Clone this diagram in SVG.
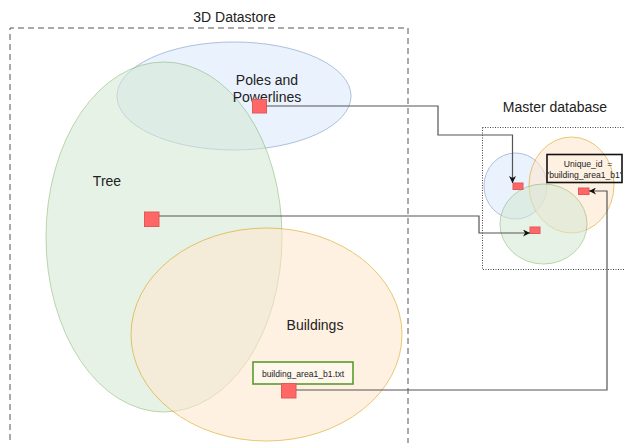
<svg xmlns="http://www.w3.org/2000/svg" width="624" height="443" viewBox="0 0 624 443">
  <style>
    text { font-family: "Liberation Sans", Arial, sans-serif; fill: #222; }
    .title { font-size: 14px; text-anchor: middle; }
    .small { font-size: 8.6px; text-anchor: middle; }
    .blob { opacity: 0.55; }
    .blue { fill: #dae8fc; stroke: #6c8ebf; }
    .green { fill: #d5e8d4; stroke: #82b366; }
    .orange { fill: #ffe6cc; stroke: #d79b00; }
    .key { fill: #ff6666; stroke: #e05a5a; stroke-width: 1; }
    .wire { fill: none; stroke: #555; stroke-width: 1.2; }
  </style>
  <defs>
    <marker id="arrow" viewBox="0 0 10 10" refX="10" refY="5" markerWidth="7" markerHeight="7" orient="auto" markerUnits="userSpaceOnUse">
      <path d="M0,0 L10,5 L0,10 L3,5 Z" fill="#111"/>
    </marker>
  </defs>

  <rect width="624" height="443" fill="#ffffff"/>

  <!-- 3D Datastore container -->
  <g id="datastore">
    <path d="M10,450 L10,28 L408,28 L408,450" fill="none" stroke="#555" stroke-dasharray="6,4"/>
    <text class="title" x="234.5" y="22">3D Datastore</text>
  </g>

  <!-- Layer sets -->
  <g id="poles">
    <ellipse class="blob blue" cx="234" cy="96" rx="117" ry="54"/>
  </g>
  <g id="tree">
    <ellipse class="blob green" cx="164" cy="237" rx="118" ry="175"/>
    <text class="title" x="107" y="186">Tree</text>
  </g>
  <g id="buildings">
    <ellipse class="blob orange" cx="266.5" cy="334.5" rx="135.5" ry="106.5"/>
    <text class="title" x="315" y="330">Buildings</text>
  </g>
  <g id="poles-label">
    <text class="title" x="267" y="85">Poles and</text>
    <text class="title" x="267" y="102">Powerlines</text>
  </g>

  <g id="building-file">
    <rect x="253" y="362" width="100" height="22" fill="#ffffff" fill-opacity="0.35" stroke="#5d9a32" stroke-width="1.6"/>
    <text class="small" x="303" y="377">building_area1_b1.txt</text>
  </g>

  <!-- Master database container -->
  <g id="master">
    <rect x="482.5" y="127.5" width="146" height="142" fill="none" stroke="#444" stroke-dasharray="1,1.5"/>
    <text class="title" x="555" y="112">Master database</text>
    <ellipse class="blob blue" cx="515.5" cy="186" rx="31.5" ry="33"/>
    <ellipse class="blob orange" cx="571.5" cy="185" rx="42.5" ry="48"/>
    <ellipse class="blob green" cx="543.5" cy="224" rx="43.5" ry="40"/>
  </g>

  <g id="unique-id">
    <rect x="547" y="154.5" width="75" height="28" fill="none" stroke="#111" stroke-width="1.6"/>
    <text class="small" x="588" y="167" xml:space="preserve">Unique_id  =</text>
    <text class="small" x="584.5" y="178">'building_area1_b1'</text>
  </g>

  <!-- Record keys -->
  <g id="keys">
    <rect class="key" x="252.5" y="99.5" width="14" height="13.5"/>
    <rect class="key" x="144.5" y="212" width="14.5" height="14.5"/>
    <rect class="key" x="281.5" y="383.5" width="14.5" height="14.5"/>
    <rect class="key" x="513" y="183" width="10" height="6.5"/>
    <rect class="key" x="530" y="227" width="10" height="6.5"/>
    <rect class="key" x="578.5" y="188" width="10.5" height="6.5"/>
  </g>

  <!-- Connectors -->
  <g id="connectors">
    <polyline class="wire" points="266.5,106 438,106 438,135 512.5,135 512.5,183" marker-end="url(#arrow)"/>
    <polyline class="wire" points="159,216 479,216 479,233 530,233" marker-end="url(#arrow)"/>
    <polyline class="wire" points="296,390 607,390 607,191 589,191" marker-end="url(#arrow)"/>
  </g>
</svg>
